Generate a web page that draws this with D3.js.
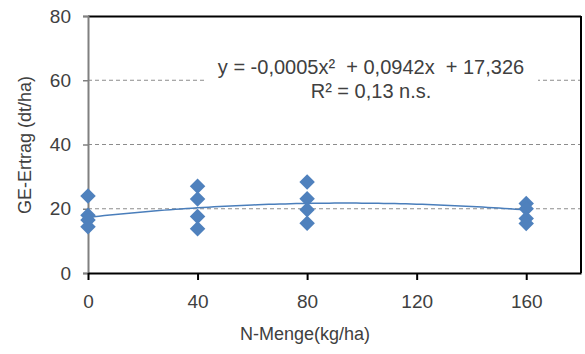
<!DOCTYPE html>
<html>
<head>
<meta charset="utf-8">
<script src="https://cdn.jsdelivr.net/npm/d3@7"></script>
<style>
  body { margin: 0; background: #fff; }
  text { font-family: "Liberation Sans", Arial, sans-serif; fill: #404040; }
</style>
</head>
<body>
<svg id="chart" width="585" height="354"></svg>
<script>
// N rate (kg/ha) and yields (dt/ha)
const nRates = [0, 0, 0, 0, 40, 40, 40, 40, 80, 80, 80, 80, 160, 160, 160, 160]
const yields = [24, 18, 16.5, 14.4, 27, 23, 17.6, 13.8, 28.3, 23.1, 19.7, 15.5, 21.6, 20, 17, 15.4]
// quadratic trendline coefficients as printed on the chart: a*x^2 + b*x + c
const trendCoef = [-0.0005, 0.0942, 17.326]
const xTicks = [0, 40, 80, 120, 160]
const yTicks = [0, 20, 40, 60, 80]
const eqLine1 = 'y = -0,0005x²  + 0,0942x  + 17,326'
const eqLine2 = 'R² = 0,13 n.s.'

const svg = d3.select('#chart')
const plotLeft = 88, plotRight = 581, plotTop = 16, plotBottom = 273

const x = d3.scaleLinear().domain([0, 180]).range([plotLeft, plotRight])
const y = d3.scaleLinear().domain([0, 80]).range([plotBottom, plotTop])

// dashed gridlines
svg.append('g')
  .selectAll('line')
  .data(yTicks.filter(d => d > 0 && d < 80))
  .join('line')
  .attr('x1', plotLeft).attr('x2', plotRight)
  .attr('y1', d => y(d)).attr('y2', d => y(d))
  .attr('stroke', '#8c8c8c')
  .attr('stroke-dasharray', '4,3')
  .attr('stroke-width', 1)

// frame: top and right black
svg.append('line').attr('x1', plotLeft).attr('x2', plotRight).attr('y1', plotTop + 0.5).attr('y2', plotTop + 0.5)
  .attr('stroke', '#000').attr('stroke-width', 2)
svg.append('line').attr('x1', plotRight).attr('x2', plotRight).attr('y1', plotTop).attr('y2', plotBottom)
  .attr('stroke', '#000').attr('stroke-width', 2)

// y axis (gray)
const yAxis = svg.append('g')
  .attr('transform', `translate(${plotLeft},0)`)
  .call(d3.axisLeft(y).tickValues(yTicks).tickSize(5).tickPadding(12))
yAxis.select('.domain').attr('stroke', '#808080').attr('stroke-width', 2)
yAxis.selectAll('.tick line').attr('stroke', '#808080').attr('stroke-width', 1.5)
yAxis.selectAll('.tick text')
  .attr('font-size', 19).style('fill', '#404040')
  .attr('font-family', '"Liberation Sans", Arial, sans-serif')

// x axis (black)
const xAxis = svg.append('g')
  .attr('transform', `translate(0,${plotBottom})`)
  .call(d3.axisBottom(x).tickValues(xTicks).tickSize(7).tickPadding(15).tickSizeOuter(0))
xAxis.select('.domain').attr('stroke', '#000').attr('stroke-width', 2)
xAxis.selectAll('.tick line').attr('stroke', '#000').attr('stroke-width', 2)
xAxis.selectAll('.tick text')
  .attr('font-size', 19).style('fill', '#404040')
  .attr('font-family', '"Liberation Sans", Arial, sans-serif')

// trendline from the printed coefficients
const trendX = d3.range(0, 160.5, 2)
const trend = d3.line()
  .x(d => x(d))
  .y(d => y(trendCoef[0] * d * d + trendCoef[1] * d + trendCoef[2]))
svg.append('path')
  .datum(trendX)
  .attr('d', trend)
  .attr('fill', 'none')
  .attr('stroke', '#4a7ebb')
  .attr('stroke-width', 1.5)

// diamond markers
const diamond = d3.symbol().type(d3.symbolSquare).size(120)
svg.append('g')
  .selectAll('path')
  .data(nRates.map((n, i) => ({ n: n, v: yields[i] })))
  .join('path')
  .attr('d', diamond)
  .attr('transform', d => `translate(${x(d.n)},${y(d.v)}) rotate(45)`)
  .attr('fill', '#4f81bd')

// equation box
svg.append('rect')
  .attr('x', 207).attr('y', 50).attr('width', 331).attr('height', 54)
  .attr('fill', '#fff')
svg.append('text')
  .attr('x', 371).attr('y', 74)
  .attr('text-anchor', 'middle')
  .attr('font-size', 20)
  .style('white-space', 'pre')
  .text(eqLine1)
svg.append('text')
  .attr('x', 371).attr('y', 98)
  .attr('text-anchor', 'middle')
  .attr('font-size', 20)
  .text(eqLine2)

// axis titles
svg.append('text')
  .attr('transform', 'translate(31,145) rotate(-90)')
  .attr('text-anchor', 'middle')
  .attr('font-size', 18)
  .text('GE-Ertrag (dt/ha)')
svg.append('text')
  .attr('x', 305).attr('y', 340)
  .attr('text-anchor', 'middle')
  .attr('font-size', 18)
  .text('N-Menge(kg/ha)')
</script>
</body>
</html>
